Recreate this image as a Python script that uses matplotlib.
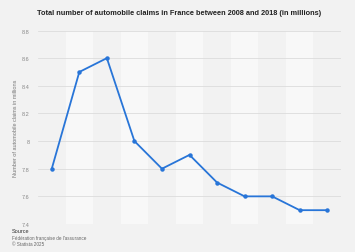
import numpy as np
import matplotlib

matplotlib.use('Agg')
import matplotlib.pyplot as plt

plt.rcParams['font.family'] = ['Liberation Sans', 'DejaVu Sans']

years = [2008, 2009, 2010, 2011, 2012, 2013, 2014, 2015, 2016, 2017, 2018]
claims = [7.8, 8.5, 8.6, 8.0, 7.8, 7.9, 7.7, 7.6, 7.6, 7.5, 7.5]
y_ticks = [7.4, 7.6, 7.8, 8.0, 8.2, 8.4, 8.6, 8.8]
y_labels = ['7.4', '7.6', '7.8', '8', '8.2', '8.4', '8.6', '8.8']

bg = '#f2f2f2'
band = '#f8f8f8'

fig = plt.figure(figsize=(3.55, 2.53), dpi=100, facecolor=bg)
ax = fig.add_axes([38 / 355, 28 / 253, 303 / 355, 193.5 / 253])
ax.set_facecolor(bg)

x = np.arange(len(years))
for i in x:
    if i % 2 == 1:
        ax.axvspan(i - 0.5, i + 0.5, color=band, zorder=0, lw=0)

for t in y_ticks:
    ax.axhline(t, color='#dcdcdc', lw=0.6, zorder=1)

ax.plot(x, claims, color='#2875d8', lw=1.3, marker='o', ms=2.2, zorder=3)

ax.set_xlim(-0.5, len(years) - 0.5)
ax.set_ylim(7.4, 8.8)
ax.set_xticks([])
ax.set_yticks(y_ticks)
ax.set_yticklabels(y_labels)
ax.tick_params(axis='y', length=0, labelsize=4, labelcolor='#888888', pad=6)
for s in ax.spines.values():
    s.set_visible(False)

ax.set_ylabel('Number of automobile claims in millions', fontsize=4,
              color='#777777', labelpad=3)

fig.text(0.503, 0.948, 'Total number of automobile claims in France between 2008 and 2018 (in millions)',
         ha='center', va='center', fontsize=5.3, fontweight='bold', color='#222222')

fig.text(12 / 355, 1 - 232 / 253, 'Source', fontsize=4, color='#333333', va='center')
fig.text(12 / 355, 1 - 238.5 / 253, 'Fédération française de l\'assurance', fontsize=3.3,
         color='#666666', va='center')
fig.text(12 / 355, 1 - 245 / 253, '© Statista 2025', fontsize=3.3, color='#666666', va='center')

fig.savefig('out.png', dpi=100, facecolor=bg)
